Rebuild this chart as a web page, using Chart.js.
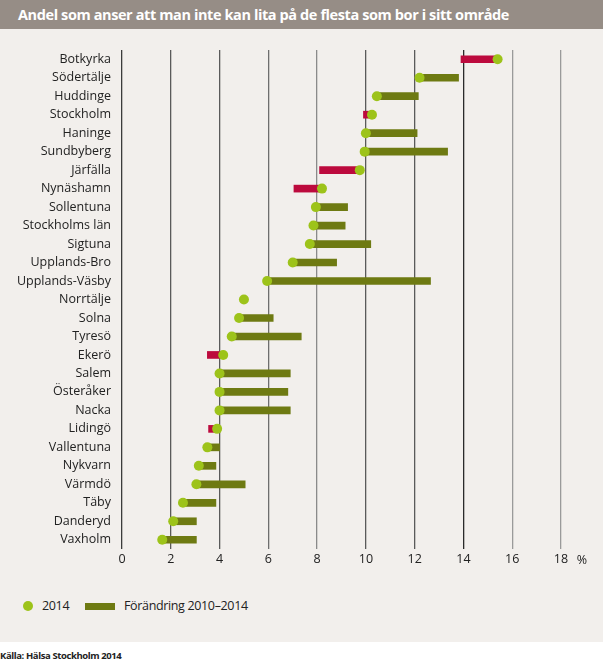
<!DOCTYPE html>
<html>
<head>
<meta charset="utf-8">
<script src="https://cdn.jsdelivr.net/npm/chart.js@4.4.1/dist/chart.umd.min.js"></script>
<style>
  body { margin: 0; width: 603px; height: 663px; background: #fff; font-family: 'Open Sans', sans-serif; position: relative; overflow: hidden; }
  #title { position: absolute; left: 0; top: 0; width: 603px; height: 29px; background: #968d86; color: #fff; font-weight: 700; font-size: 14.5px; letter-spacing: -0.4px; line-height: 29px; padding-left: 18px; box-sizing: border-box; white-space: nowrap; }
  #panel { position: absolute; left: 0; top: 29px; width: 603px; height: 613px; background: #f2efec; }
  #wrap { position: absolute; left: 0; top: 0; width: 603px; height: 550px; }
  .lg { position: absolute; font-size: 12.5px; letter-spacing: -0.35px; color: #222; line-height: 16px; }
  #source { position: absolute; left: 0; top: 649px; font-size: 9.5px; letter-spacing: -0.4px; font-weight: 700; color: #222; white-space: nowrap; }
</style>
</head>
<body>
<div id="title">Andel som anser att man inte kan lita på de flesta som bor i sitt område</div>
<div id="panel">
  <div id="wrap"><canvas id="chart"></canvas></div>
  <div style="position:absolute; left:23px; top:572px; width:10px; height:10px; border-radius:50%; background:#9dc31a"></div>
  <div class="lg" style="left:42px; top:569px">2014</div>
  <div style="position:absolute; left:85px; top:574px; width:30px; height:7px; background:#6e7a12"></div>
  <div class="lg" style="left:124px; top:569px">Förändring 2010–2014</div>
</div>
<div id="source">Källa: Hälsa Stockholm 2014</div>

<script>
// Data
const categories = ['Botkyrka', 'Södertälje', 'Huddinge', 'Stockholm', 'Haninge', 'Sundbyberg', 'Järfälla',
    'Nynäshamn', 'Sollentuna', 'Stockholms län', 'Sigtuna', 'Upplands-Bro', 'Upplands-Väsby', 'Norrtälje',
    'Solna', 'Tyresö', 'Ekerö', 'Salem', 'Österåker', 'Nacka', 'Lidingö', 'Vallentuna', 'Nykvarn',
    'Värmdö', 'Täby', 'Danderyd', 'Vaxholm'];
const values2014 = [15.4, 12.2, 10.45, 10.25, 10.0, 9.95, 9.75, 8.2, 7.95, 7.85, 7.7, 7.0, 5.95, 5.0,
    4.8, 4.5, 4.15, 4.0, 4.0, 4.0, 3.9, 3.5, 3.15, 3.05, 2.5, 2.1, 1.65];
const values2010 = [13.9, 13.8, 12.15, 9.9, 12.1, 13.35, 8.1, 7.05, 9.25, 9.15, 10.2, 8.8, 12.65, 5.0,
    6.2, 7.35, 3.5, 6.9, 6.8, 6.9, 3.55, 4.0, 3.85, 5.05, 3.85, 3.05, 3.05];
const xTicks = [0, 2, 4, 6, 8, 10, 12, 14, 16, 18];

// Colours
const DOT = '#9dc31a';
const DOWN = '#6e7a12';
const UP = '#bc0a3d';
const gridShades = ['#3c3c3c', '#5a5a5a', '#5a5a5a', '#6e6e6e', '#8a8a8a', '#5a5a5a', '#5a5a5a', '#2a2a2a', '#9a9a9a', '#9a9a9a'];

const changeBars = categories.map((c, i) => [values2010[i], values2014[i]]);
const barColors = categories.map((c, i) => values2010[i] < values2014[i] ? UP : DOWN);
const dots = categories.map((c, i) => ({ x: values2014[i], y: c }));

// "%" unit after the last tick
const percentLabel = {
    id: 'percentLabel',
    afterDraw(chart) {
        const { ctx, chartArea, scales } = chart;
        ctx.save();
        ctx.font = '12.5px "Open Sans"';
        ctx.fillStyle = '#222';
        ctx.textAlign = 'center';
        ctx.textBaseline = 'middle';
        ctx.fillText('%', scales.x.right + 21, chartArea.bottom + 11);
        ctx.restore();
    }
};

new Chart(document.getElementById('chart'), {
    type: 'bar',
    data: {
        labels: categories,
        datasets: [
            {
                type: 'line',
                label: '2014',
                data: dots,
                indexAxis: 'y',
                showLine: false,
                pointRadius: 5,
                pointHoverRadius: 5,
                pointBackgroundColor: DOT,
                pointBorderWidth: 0,
                order: 0
            },
            {
                label: 'Förändring 2010–2014',
                data: changeBars,
                backgroundColor: barColors,
                barThickness: 7,
                borderSkipped: false,
                order: 1
            }
        ]
    },
    options: {
        indexAxis: 'y',
        responsive: true,
        maintainAspectRatio: false,
        animation: false,
        layout: { padding: { top: 21, right: 42, left: 0, bottom: 0 } },
        plugins: { legend: { display: false }, tooltip: { enabled: false } },
        scales: {
            x: {
                min: 0,
                max: 18,
                afterBuildTicks: (s) => { s.ticks = xTicks.map(v => ({ value: v })); },
                afterFit: (s) => { s.height = 30; },
                border: { display: false },
                grid: {
                    drawTicks: false,
                    lineWidth: 1.3,
                    color: (ctx) => gridShades[xTicks.indexOf(ctx.tick.value)] || '#777'
                },
                ticks: { padding: 3, color: '#222', font: { family: 'Open Sans', size: 12.5 } }
            },
            y: {
                afterFit: (s) => { s.width = 122; },
                border: { display: false },
                grid: { display: false, drawTicks: false },
                ticks: { padding: 11, color: '#222', font: { family: 'Open Sans', size: 12.5 } }
            }
        }
    },
    plugins: [percentLabel]
});
</script>
</body>
</html>
